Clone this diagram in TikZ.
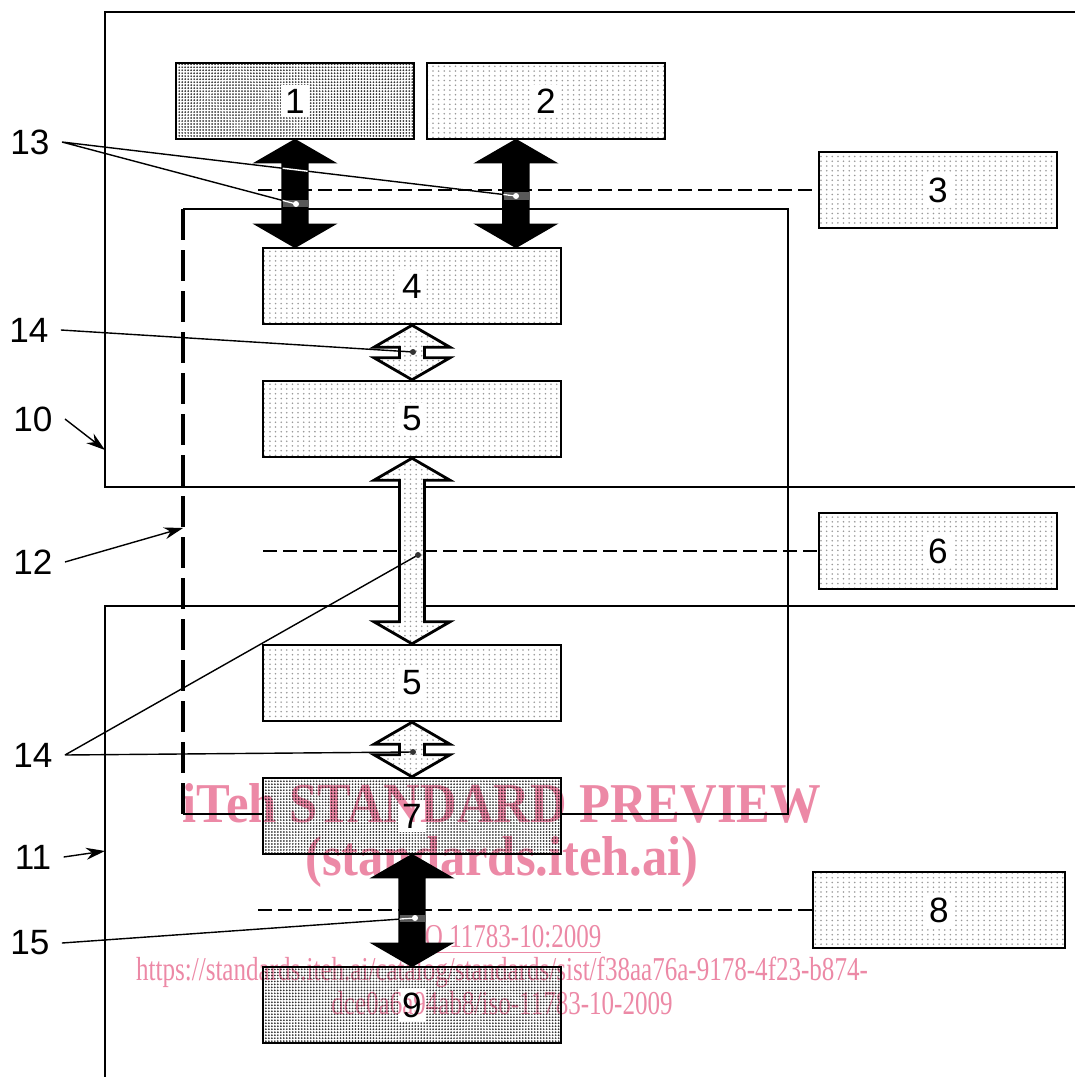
\documentclass[tikz,border=0pt]{standalone}
\usepackage{fontspec}
\setmainfont{Liberation Sans}
\newfontfamily\marcafont{Liberation Serif}
\usetikzlibrary{arrows.meta,calc,patterns.meta}

\definecolor{rosa}{RGB}{236,137,166}

\tikzdeclarepattern{name=puntos, type=uncolored,
  bounding box={(-0.3pt,-0.3pt) and (0.3pt,0.3pt)}, tile size={(1.6pt,1.35pt)},
  code={\fill (0,0) circle (0.25pt);}}
\tikzdeclarepattern{name=puntosdensos, type=uncolored,
  bounding box={(-0.3pt,-0.3pt) and (0.3pt,0.3pt)}, tile size={(0.85pt,0.85pt)},
  code={\fill (0,0) circle (0.28pt);}}

\tikzset{
  caja/.style={draw, line width=0.7pt, minimum width=2.38cm, minimum height=0.76cm,
    inner sep=0pt, font=\fontsize{10}{12}\selectfont,
    preaction={fill=white}, pattern=puntos, pattern color=black!40},
  cajaoscura/.style={caja, pattern=puntosdensos, pattern color=black!80},
  marco/.style={line width=0.7pt},
  raya/.style={line width=1.1pt, dash pattern=on 0.31cm off 0.10cm},
  guion/.style={line width=0.45pt, dash pattern=on 0.14cm off 0.06cm},
  guia/.style={line width=0.4pt},
  etiqueta/.style={font=\fontsize{10}{12}\selectfont},
  flechanegra/.style={fill=black, draw=black, line width=0.7pt},
  flechahueca/.style={draw=black, line width=0.8pt, preaction={fill=white},
    pattern=puntos, pattern color=black!40},
  marca/.style={font=\marcafont\bfseries\fontsize{16}{18}\selectfont, text=rosa,
    xscale=0.9, transform shape},
  marcachica/.style={font=\marcafont\fontsize{9.5}{11}\selectfont, text=rosa,
    xscale=0.75, transform shape, inner sep=0pt}
}

% flecha doble ancha: estilo, punta superior, punta inferior
\newcommand\flechadoble[3]{%
  \draw[#1] (#2) -- ++(0.38,-0.22) -- ++(-0.255,0) -- ($(#3)+(0.125,0.22)$)
    -- ++(0.255,0) -- (#3) -- ++(-0.38,0.22) -- ++(0.255,0)
    -- ($(#2)+(-0.125,-0.22)$) -- ++(-0.255,0) -- cycle;}
\newcommand\cifra[1]{{\setlength\fboxsep{1.2pt}\colorbox{white}{#1}}}

\begin{document}
\begin{tikzpicture}[>={Stealth[length=1.9mm,width=1.2mm]}]
  \useasboundingbox (0,0) rectangle (10.75,-10.77);
  % marcos 10, 11 y 12
  \draw[marco] (10.75,-0.12) -| (1.05,-4.87) -- (10.75,-4.87);
  \draw[marco] (10.75,-6.06) -| (1.05,-10.77);
  \draw[marco] (1.83,-2.09) -- (7.88,-2.09) -- (7.88,-8.14) -- (1.83,-8.14);
  \draw[raya] (1.83,-2.09) -- (1.83,-8.14);

  % bloques
  \node[cajaoscura] (b1) at (2.95,-1.01) {\cifra{1}};
  \node[caja] (b2) at (5.46,-1.01) {\cifra{2}};
  \node[caja] (b3) at (9.38,-1.90) {\cifra{3}};
  \node[caja, minimum width=2.98cm] (b4) at (4.12,-2.86) {\cifra{4}};
  \node[caja, minimum width=2.98cm] (b5a) at (4.12,-4.19) {\cifra{5}};
  \node[caja] (b6) at (9.38,-5.51) {\cifra{6}};
  \node[caja, minimum width=2.98cm] (b5b) at (4.12,-6.83) {\cifra{5}};
  \node[cajaoscura, minimum width=2.98cm] (b7) at (4.12,-8.16) {\cifra{7}};
  \node[caja, minimum width=2.52cm] (b8) at (9.39,-9.10) {\cifra{8}};
  \node[cajaoscura, minimum width=2.98cm] (b9) at (4.12,-10.05) {\cifra{9}};

  % limites de red (trazos)
  \coordinate (d3) at (2.58,-1.90);
  \coordinate (d6) at (2.63,-5.51);
  \coordinate (d8) at (2.58,-9.10);
  \draw[guion] (d3) -- (b3.west);
  \draw[guion] (d6) -- (b6.west);
  \draw[guion] (d8) -- (b8.west);

  % flechas
  \coordinate (s2) at ($(b2.south west)!0.375!(b2.south east)$);
  \flechadoble{flechanegra}{b1.south}{b1.south |- b4.north}
  \flechadoble{flechanegra}{s2}{s2 |- b4.north}
  \flechadoble{flechahueca}{b4.south}{b5a.north}
  \flechadoble{flechahueca}{b5a.south}{b5b.north}
  \flechadoble{flechahueca}{b5b.south}{b7.north}
  \flechadoble{flechanegra}{b7.south}{b9.north}

  % puntos de interfaz
  \coordinate (m1) at (2.96,-2.04);
  \coordinate (m2) at (5.16,-1.96);
  \coordinate (m3) at (4.13,-3.52);
  \coordinate (m4) at (4.18,-5.55);
  \coordinate (m5) at (4.13,-7.52);
  \coordinate (m6) at (4.15,-9.18);
  \foreach \m/\x in {m1/2.95,m2/5.16,m6/4.12}
    \fill[black!65] (\x-0.125,0 |- \m) ++(0,-0.035) rectangle ++(0.25,0.07);

  % referencias
  \node[etiqueta] (l13) at (0.30,-1.42) {13};
  \node[etiqueta] (l14a) at (0.29,-3.30) {14};
  \node[etiqueta] (l10) at (0.33,-4.19) {10};
  \node[etiqueta] (l12) at (0.33,-5.62) {12};
  \node[etiqueta] (l14b) at (0.33,-7.55) {14};
  \node[etiqueta] (l11) at (0.33,-8.57) {11};
  \node[etiqueta] (l15) at (0.30,-9.43) {15};
  \coordinate (p10) at (1.05,-4.50);
  \coordinate (p12) at (1.83,-5.28);
  \coordinate (p11) at (1.05,-8.51);
  \draw[guia] (l13.east) -- (m1) (l13.east) -- (m2);
  \draw[guia] (l14a.east) -- (m3);
  \draw[guia] (l14b.east) -- (m4) (l14b.east) -- (m5);
  \draw[guia] (l15.east) -- (m6);
  \draw[guia,->] (l10.east) -- (p10);
  \draw[guia,->] (l12.east) -- (p12);
  \draw[guia,->] (l11.east) -- (p11);
  \begin{scope}
    \clip ($(b1.south)+(-0.125,-0.22)$) rectangle ($(b1.south |- b4.north)+(0.125,0.22)$)
          ($(s2)+(-0.125,-0.22)$) rectangle ($(s2 |- b4.north)+(0.125,0.22)$)
          ($(b7.south)+(-0.125,-0.22)$) rectangle ($(b9.north)+(0.125,0.22)$);
    \draw[guia, white] (l13.east) -- (m1) (l13.east) -- (m2) (l15.east) -- (m6);
  \end{scope}
  \foreach \m in {m1,m2,m6} \fill[white] (\m) circle (0.03);
  \foreach \m in {m3,m4,m5} \fill[black!80] (\m) circle (0.03);

  % marca de agua
  \begin{scope}[blend mode=multiply]
    \node[marca] (w1) at (5.02,-8.03) {iTeh STANDARD PREVIEW};
    \node[marca] (w2) at (5.02,-8.62) {(standards.iteh.ai)};
    \node[marcachica] (w3) at (5.02,-9.40) {\underline{ISO 11783-10:2009}};
    \node[marcachica] (w4) at (5.02,-9.72) {https://standards.iteh.ai/catalog/standards/sist/f38aa76a-9178-4f23-b874-};
    \node[marcachica] (w5) at (5.02,-10.03) {dce0a6a94ab8/iso-11783-10-2009};
  \end{scope}
\end{tikzpicture}
\end{document}
